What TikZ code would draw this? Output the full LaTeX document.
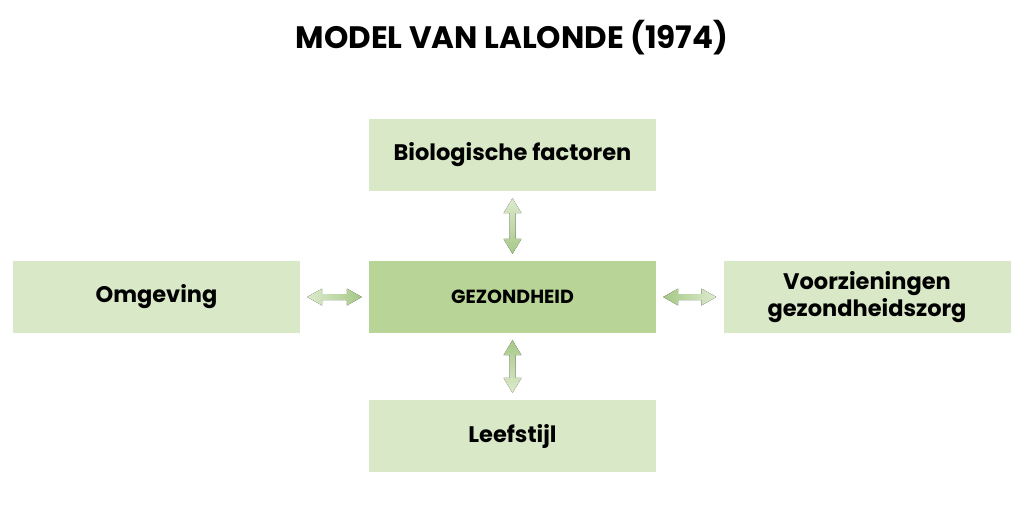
\documentclass[tikz,border=0pt]{standalone}
\usepackage{fontspec}
\setmainfont{Poppins}
\usetikzlibrary{calc}
\definecolor{boxlight}{HTML}{D9E8C6}
\definecolor{boxdark}{HTML}{B8D496}
\definecolor{arlight}{HTML}{DDEBCD}
\definecolor{ardark}{HTML}{A6C886}
\tikzset{
  box/.style={fill=boxlight, minimum width=287pt, minimum height=72pt, inner sep=0pt, align=center, font=\fontsize{22.5}{27}\selectfont\bfseries},
  centerbox/.style={box, fill=boxdark, font=\fontsize{19}{23}\selectfont\bfseries},
}
\begin{document}
\begin{tikzpicture}[x=1pt,y=-1pt]
\useasboundingbox (0,0) rectangle (1024,512);
\node[font=\fontsize{31}{36}\selectfont\bfseries] (title) at (512,38) {MODEL VAN LALONDE (1974)};
\node[box] (bio) at (512.5,155) {Biologische factoren};
\node[box] (omg) at (156.5,297) {Omgeving};
\node[centerbox] (gez) at (512.5,297) {GEZONDHEID};
\node[box] (voo) at (867,297) {Voorzieningen\\gezondheidszorg};
\node[box] (lee) at (512.5,436) {Leefstijl};
% left arrow
\coordinate (a1s) at ($(omg.east)+(7,0)$);
\coordinate (a1e) at ($(gez.west)+(-7,0)$);
\fill[left color=arlight, right color=ardark] (a1s) -- ++(15,-8.5) -- ++(0,5.5) -- ($(a1e)+(-15,-3)$) -- ++(0,-5.5) -- (a1e) -- ++(-15,8.5) -- ++(0,-5.5) -- ($(a1s)+(15,3)$) -- ++(0,5.5) -- cycle;
% right arrow
\coordinate (a2s) at ($(gez.east)+(7,0)$);
\coordinate (a2e) at ($(voo.west)+(-7,0)$);
\fill[left color=ardark, right color=arlight] (a2s) -- ++(15,-8.5) -- ++(0,5.5) -- ($(a2e)+(-15,-3)$) -- ++(0,-5.5) -- (a2e) -- ++(-15,8.5) -- ++(0,-5.5) -- ($(a2s)+(15,3)$) -- ++(0,5.5) -- cycle;
% top arrow
\coordinate (a3s) at ($(bio.south)+(0,7)$);
\coordinate (a3e) at ($(gez.north)+(0,-7)$);
\fill[top color=arlight, bottom color=ardark] (a3s) -- ++(-9,15) -- ++(6,0) -- ($(a3e)+(-3,-15)$) -- ++(-6,0) -- (a3e) -- ++(9,-15) -- ++(-6,0) -- ($(a3s)+(3,15)$) -- ++(6,0) -- cycle;
% bottom arrow
\coordinate (a4s) at ($(gez.south)+(0,7)$);
\coordinate (a4e) at ($(lee.north)+(0,-7)$);
\fill[top color=ardark, bottom color=arlight] (a4s) -- ++(-9,15) -- ++(6,0) -- ($(a4e)+(-3,-15)$) -- ++(-6,0) -- (a4e) -- ++(9,-15) -- ++(-6,0) -- ($(a4s)+(3,15)$) -- ++(6,0) -- cycle;
\end{tikzpicture}
\end{document}
